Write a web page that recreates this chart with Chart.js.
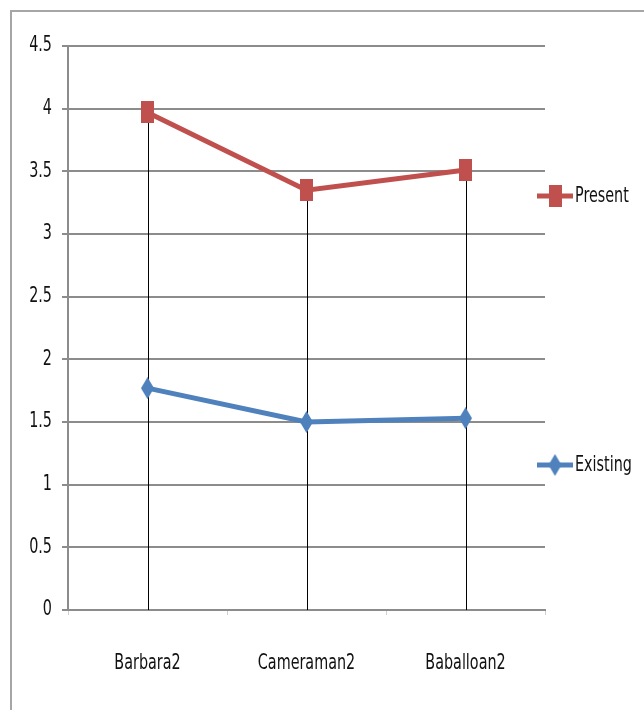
<!DOCTYPE html>
<html>
<head>
<meta charset="utf-8">
<script src="https://cdn.jsdelivr.net/npm/chart.js@4/dist/chart.umd.min.js"></script>
<style>
  html, body { margin: 0; padding: 0; background: #fff; }
  #wrap { position: relative; width: 644px; height: 710px; }
  canvas { display: block; }
</style>
</head>
<body>
<div id="wrap"><canvas id="chart" width="644" height="710"></canvas></div>
<script>
// Images and their quality scores
const categories = ['Barbara2', 'Cameraman2', 'Baballoan2'];
const presentValues = [3.97, 3.35, 3.51];
const existingValues = [1.77, 1.50, 1.53];
const yTicks = [0, 0.5, 1, 1.5, 2, 2.5, 3, 3.5, 4, 4.5];

const FONT = "'DejaVu Sans Condensed', 'DejaVu Sans', sans-serif";
const FONT_SIZE = 21;
const TEXT_SQUEEZE = 0.76;   // horizontal compression of all text
const RED = '#C0504D';
const BLUE = '#4F81BD';

// tall marker glyphs (rectangle and diamond)
function makeMarker(kind, color, w, h) {
  const c = document.createElement('canvas');
  c.width = w; c.height = h;
  const g = c.getContext('2d');
  g.fillStyle = color;
  if (kind === 'rect') {
    g.fillRect(0, 0, w, h);
  } else {
    g.beginPath();
    g.moveTo(w / 2, 0);
    g.lineTo(w, h / 2);
    g.lineTo(w / 2, h);
    g.lineTo(0, h / 2);
    g.closePath();
    g.fill();
  }
  return c;
}
const rectMarker = makeMarker('rect', RED, 13, 22);
const diamondMarker = makeMarker('diamond', BLUE, 13, 22);

// narrow text: compress every label horizontally around its anchor
const narrowTextPlugin = {
  id: 'narrowText',
  beforeInit(chart) {
    const ctx = chart.ctx;
    const fill = ctx.fillText;
    ctx.fillText = function (t, x, y, mw) {
      this.save();
      this.translate(x, y);
      this.scale(TEXT_SQUEEZE, 1);
      fill.call(this, t, 0, 0, mw);
      this.restore();
    };
  }
};

// outer frame along top and left edges
const framePlugin = {
  id: 'frame',
  beforeDraw(chart) {
    const ctx = chart.ctx;
    ctx.save();
    ctx.fillStyle = '#fff';
    ctx.fillRect(0, 0, chart.width, chart.height);
    ctx.strokeStyle = '#a6a6a6';
    ctx.lineWidth = 2;
    ctx.beginPath();
    ctx.moveTo(chart.width, 11);
    ctx.lineTo(11, 11);
    ctx.lineTo(11, chart.height);
    ctx.stroke();
    ctx.restore();
  }
};

// drop lines from the highest point of each category down to the axis
const dropLinePlugin = {
  id: 'dropLines',
  beforeDatasetsDraw(chart) {
    const xs = chart.scales.x, ys = chart.scales.y, ctx = chart.ctx;
    ctx.save();
    ctx.strokeStyle = '#000';
    ctx.lineWidth = 1;
    categories.forEach((c, i) => {
      const top = Math.max(...chart.data.datasets.map(d => d.data[i]));
      const x = Math.round(xs.getPixelForValue(i)) + 0.5;
      ctx.beginPath();
      ctx.moveTo(x, ys.getPixelForValue(top));
      ctx.lineTo(x, ys.bottom);
      ctx.stroke();
    });
    ctx.restore();
  }
};

// legend entries placed on the right side
const sideLegendPlugin = {
  id: 'sideLegend',
  afterDraw(chart) {
    const ctx = chart.ctx;
    const area = chart.chartArea;
    const rows = [
      { ds: chart.data.datasets[0], y: 196 },
      { ds: chart.data.datasets[1], y: 465 }
    ];
    ctx.save();
    rows.forEach(r => {
      const x0 = area.right - 8;
      const x1 = x0 + 36;
      ctx.strokeStyle = r.ds.borderColor;
      ctx.lineWidth = 5;
      ctx.beginPath();
      ctx.moveTo(x0, r.y);
      ctx.lineTo(x1, r.y);
      ctx.stroke();
      const img = r.ds.pointStyle;
      ctx.drawImage(img, (x0 + x1) / 2 - img.width / 2, r.y - img.height / 2);
      ctx.fillStyle = '#111';
      ctx.font = FONT_SIZE + 'px ' + FONT;
      ctx.textBaseline = 'middle';
      ctx.textAlign = 'left';
      ctx.fillText(r.ds.label, x1 + 2, r.y + 1);
    });
    ctx.restore();
  }
};

new Chart(document.getElementById('chart'), {
  type: 'line',
  data: {
    labels: categories,
    datasets: [
      {
        label: 'Present',
        data: presentValues,
        borderColor: RED,
        backgroundColor: RED,
        borderWidth: 5,
        pointStyle: rectMarker,
        pointRadius: 8,
        tension: 0
      },
      {
        label: 'Existing',
        data: existingValues,
        borderColor: BLUE,
        backgroundColor: BLUE,
        borderWidth: 5,
        pointStyle: diamondMarker,
        pointRadius: 8,
        tension: 0
      }
    ]
  },
  options: {
    responsive: false,
    animation: false,
    devicePixelRatio: 1,
    layout: { padding: { left: 10, top: 46, right: 99, bottom: 0 } },
    plugins: {
      legend: { display: false },
      tooltip: { enabled: false }
    },
    scales: {
      x: {
        offset: true,
        afterFit(s) { s.height = 100; },
        grid: {
          offset: true,
          drawOnChartArea: false,
          drawTicks: true,
          tickLength: 5,
          color: '#d0d0d0'
        },
        border: { display: true, color: '#8c8c8c', width: 2 },
        ticks: {
          color: '#111',
          padding: 36,
          maxRotation: 0,
          font: { family: FONT, size: FONT_SIZE }
        }
      },
      y: {
        min: 0,
        max: 4.5,
        afterFit(s) { s.width = 58; },
        afterBuildTicks(s) { s.ticks = yTicks.map(v => ({ value: v })); },
        grid: {
          color: '#8c8c8c',
          lineWidth: 2,
          tickLength: 6
        },
        border: { display: true, color: '#8c8c8c', width: 2 },
        ticks: {
          color: '#111',
          padding: 10,
          font: { family: FONT, size: FONT_SIZE },
          callback: v => String(v)
        }
      }
    }
  },
  plugins: [narrowTextPlugin, framePlugin, dropLinePlugin, sideLegendPlugin]
});
</script>
</body>
</html>
